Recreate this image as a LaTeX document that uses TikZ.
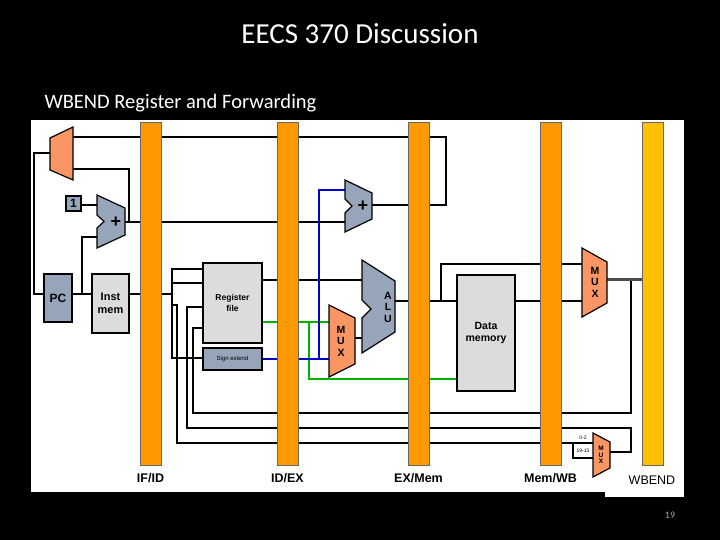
\documentclass[tikz,border=0pt]{standalone}
\usepackage{fontspec}
\setmainfont{Carlito}
\newfontfamily\arialf{Liberation Sans}
\newcommand{\fsz}[1]{\fontsize{#1}{#1}\selectfont}
\begin{document}
\begin{tikzpicture}[x=1pt,y=-1pt,
  wire/.style={line width=1.3pt,black},
  gwire/.style={line width=1.3pt,green!70!black},
  bwire/.style={line width=1.3pt,blue!80!black},
  bar/.style={fill={rgb,255:red,255;green,153;blue,0},draw=black!60,line width=0.5pt},
  unit/.style={draw=black,line width=1.2pt},
  mux/.style={unit,fill={rgb,255:red,250;green,150;blue,100}},
  gray/.style={unit,fill={rgb,255:red,150;green,165;blue,185}},
  lgray/.style={unit,fill={rgb,255:red,220;green,220;blue,220}},
  lbl/.style={font=\arialf\bfseries\fsz{11},inner sep=0pt},
  barlbl/.style={font=\arialf\bfseries\fsz{12.5},inner sep=0pt}]
\fill[black] (0,0) rectangle (720,540);
\useasboundingbox (0,0) rectangle (720,540);
\fill[white] (31,120) rectangle (684,492);
\fill[white] (605,492) rectangle (684,497);
\node[white,font=\fsz{29}] (title) at (360,34) {EECS 370 Discussion};
\node[white,font=\fsz{20.5},anchor=west] (sub) at (41,103) {WBEND Register and Forwarding};
\node[gray!70,font=\fsz{10}] (pg) at (670,515) {19};

% wires
\draw[wire] (73,137) -- (446,137) -- (446,205) -- (372,205);
\draw[wire] (73,169) -- (129,169) -- (129,222);
\draw[wire] (125,222) -- (345,222);
\draw[wire] (50,153) -- (34,153) -- (34,294) -- (44,294);
\draw[wire] (81,205) -- (98,205);
\draw[wire] (98,237) -- (82,237) -- (82,294);
\draw[wire] (72,294) -- (92,294);
\draw[wire] (129,294) -- (172,294);
\draw[wire] (203,269) -- (172,269) -- (172,358) -- (203,358);
\draw[wire] (172,283) -- (203,283);
\draw[wire] (172,305) -- (177,305) -- (177,443) -- (593,443);
\draw[wire] (203,307) -- (187,307) -- (187,428) -- (631,428) -- (631,452) -- (610,452);
\draw[wire] (203,328) -- (193,328) -- (193,413) -- (631,413) -- (631,279);
\draw[wire] (573,443) -- (573,458) -- (593,458);
\draw[wire] (262,280) -- (362,280);
\draw[wire] (355,338) -- (362,338);
\draw[wire] (395,301) -- (457,301);
\draw[wire] (441,301) -- (441,264) -- (583,264);
\draw[wire] (515,301) -- (583,301);
\draw[line width=3pt,black!70] (607,279) -- (642,279);
\draw[gwire] (262,322) -- (329,322);
\draw[gwire] (309,322) -- (309,379) -- (457,379);
\draw[bwire] (262,359) -- (329,359);
\draw[bwire] (319,359) -- (319,190) -- (345,190);

% pipeline registers
\foreach \x/\n/\t in {140/ifid/IF\slash ID,277/idex/ID\slash EX,408/exmem/EX\slash Mem,540/memwb/Mem\slash WB}{
  \draw[bar] (\x,122) rectangle (\x+21,465);
  \node[barlbl] (\n) at (\x+10.5,478) {\t};
}
\draw[fill={rgb,255:red,255;green,192;blue,0},draw=black!60] (642,122) rectangle (663,465);
\node[font=\arialf\fsz{12.5},inner sep=0pt] (wbend) at (652,480) {WBEND};

% units
\draw[mux] (50,138) -- (73,127) -- (73,180) -- (50,170) -- cycle;
\draw[gray] (66,196) rectangle (81,211);
\node[lbl,font=\arialf\bfseries\fsz{12}] (one) at (73.5,203.5) {1};
\draw[gray] (97,195) -- (125,208) -- (125,235) -- (97,248) -- (97,228) -- (104,221.5) -- (97,215) -- cycle;
\node[lbl,font=\arialf\bfseries\fsz{18}] (plus1) at (116,222) {+};
\draw[gray] (345,180) -- (372,193) -- (372,219) -- (345,232) -- (345,213) -- (352,206) -- (345,199) -- cycle;
\node[lbl,font=\arialf\bfseries\fsz{18}] (plus2) at (363,206) {+};
\draw[gray] (44,274) rectangle (72,322);
\node[lbl,font=\arialf\bfseries\fsz{12}] (pc) at (58,298) {PC};
\draw[lgray] (92,274) rectangle (129,333);
\node[lbl,align=center] (imem) at (110.5,303) {Inst\\[2pt]mem};
\draw[lgray] (203,263) rectangle (262,343);
\node[lbl,font=\arialf\bfseries\fsz{8.5},align=center] (rf) at (232.5,303) {Register\\[2pt]file};
\draw[gray] (203,348) rectangle (262,370);
\node[lbl,font=\arialf\fsz{6}] (se) at (232.5,359) {Sign extend};
\draw[mux] (329,305) -- (355,318) -- (355,364) -- (329,377) -- cycle;
\node[lbl,align=center,font=\arialf\bfseries\fsz{10.5}] (m1) at (341,341) {M\\[1pt]U\\[1pt]X};
\draw[gray] (362,260) -- (395,281) -- (395,332) -- (362,353) -- (362,318) -- (371,309) -- (362,300) -- cycle;
\node[lbl,align=center,font=\arialf\bfseries\fsz{10.5}] (alu) at (388,307) {A\\[1pt]L\\[1pt]U};
\draw[lgray] (457,275) rectangle (515,391);
\node[lbl,align=center,font=\arialf\bfseries\fsz{10.5}] (dm) at (486,333) {Data\\[2pt]memory};
\draw[mux] (582,248) -- (607,262) -- (607,303) -- (582,317) -- cycle;
\node[lbl,align=center,font=\arialf\bfseries\fsz{10.5}] (m3) at (595,282) {M\\[1pt]U\\[1pt]X};
\draw[mux] (593,433) -- (610,442) -- (610,468) -- (593,477) -- cycle;
\node[lbl,font=\arialf\bfseries\fsz{6.5},align=center] (m2) at (601,455) {M\\U\\X};
\node[font=\arialf\fsz{5},inner sep=0pt] (l02) at (583,437.5) {0-2};
\node[font=\arialf\fsz{5},inner sep=0pt] (l1915) at (583,451) {19-15};
\end{tikzpicture}
\end{document}
